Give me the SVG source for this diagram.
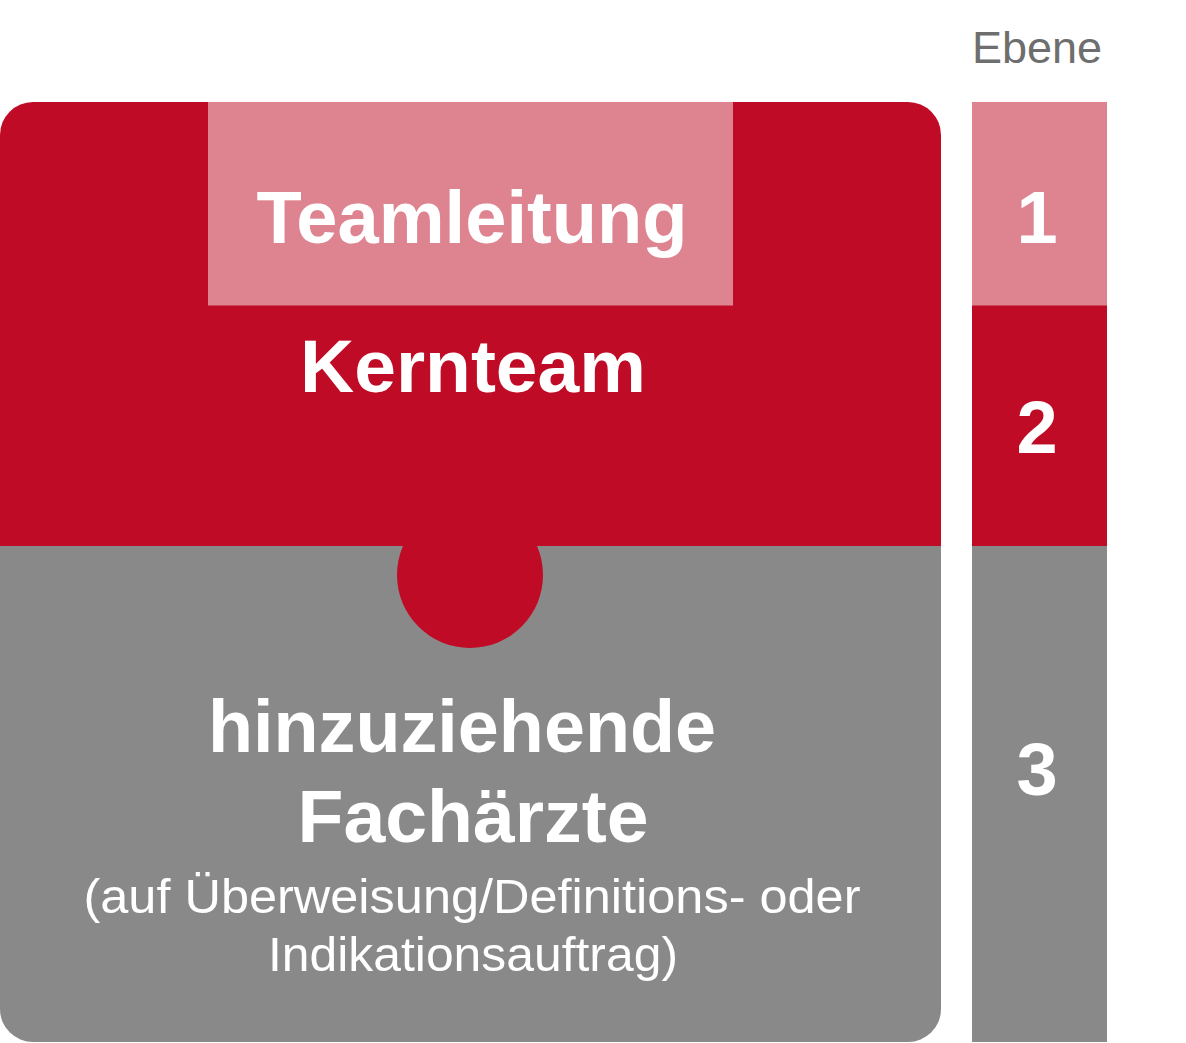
<svg xmlns="http://www.w3.org/2000/svg" width="1186" height="1043" viewBox="0 0 1186 1043">
<style>
.red{fill:#C00B27}.pink{fill:#DE8491}.gray{fill:#898989}
.t{font-family:"Liberation Sans",Arial,Helvetica,sans-serif;fill:#fff;text-anchor:middle}
.b{font-weight:bold;font-size:75px}
.s{font-size:49px}
.num{font-weight:bold;font-size:74px}
.lbl{font-family:"Liberation Sans",Arial,Helvetica,sans-serif;fill:#6E6E6E;font-size:45px;text-anchor:middle}
</style>
<defs>
<clipPath id="box"><rect x="0" y="102" width="941" height="940" rx="33" ry="33"/></clipPath>
</defs>
<rect width="1186" height="1043" fill="#fff"/>
<g id="main" clip-path="url(#box)">
<rect class="red" x="0" y="102" width="941" height="444"/>
<rect class="gray" x="0" y="546" width="941" height="500"/>
</g>
<g id="kernteam">
<circle class="red" cx="470" cy="575" r="73"/>
<text class="t b" x="473" y="392" textLength="346" lengthAdjust="spacingAndGlyphs">Kernteam</text>
</g>
<g id="teamleitung">
<rect class="pink" x="208" y="102" width="525" height="203.5"/>
<text class="t b" x="472" y="243" textLength="431" lengthAdjust="spacingAndGlyphs">Teamleitung</text>
</g>
<g id="fachaerzte">
<text class="t b" x="462" y="752" textLength="508" lengthAdjust="spacingAndGlyphs">hinzuziehende</text>
<text class="t b" x="473" y="842" textLength="351" lengthAdjust="spacingAndGlyphs">Fachärzte</text>
<text class="t s" x="472" y="913" textLength="777" lengthAdjust="spacingAndGlyphs">(auf Überweisung/Definitions- oder</text>
<text class="t s" x="473" y="971" textLength="410" lengthAdjust="spacingAndGlyphs">Indikationsauftrag)</text>
</g>
<g id="ebene">
<text class="lbl" x="1037" y="63">Ebene</text>
<rect class="pink" x="972" y="102" width="135" height="204"/>
<rect class="red" x="972" y="305.5" width="135" height="241"/>
<rect class="gray" x="972" y="546" width="135" height="496"/>
<text class="t num" x="1037" y="243">1</text>
<text class="t num" x="1037" y="453">2</text>
<text class="t num" x="1037" y="795">3</text>
</g>
<g id="connectors"/>
</svg>
